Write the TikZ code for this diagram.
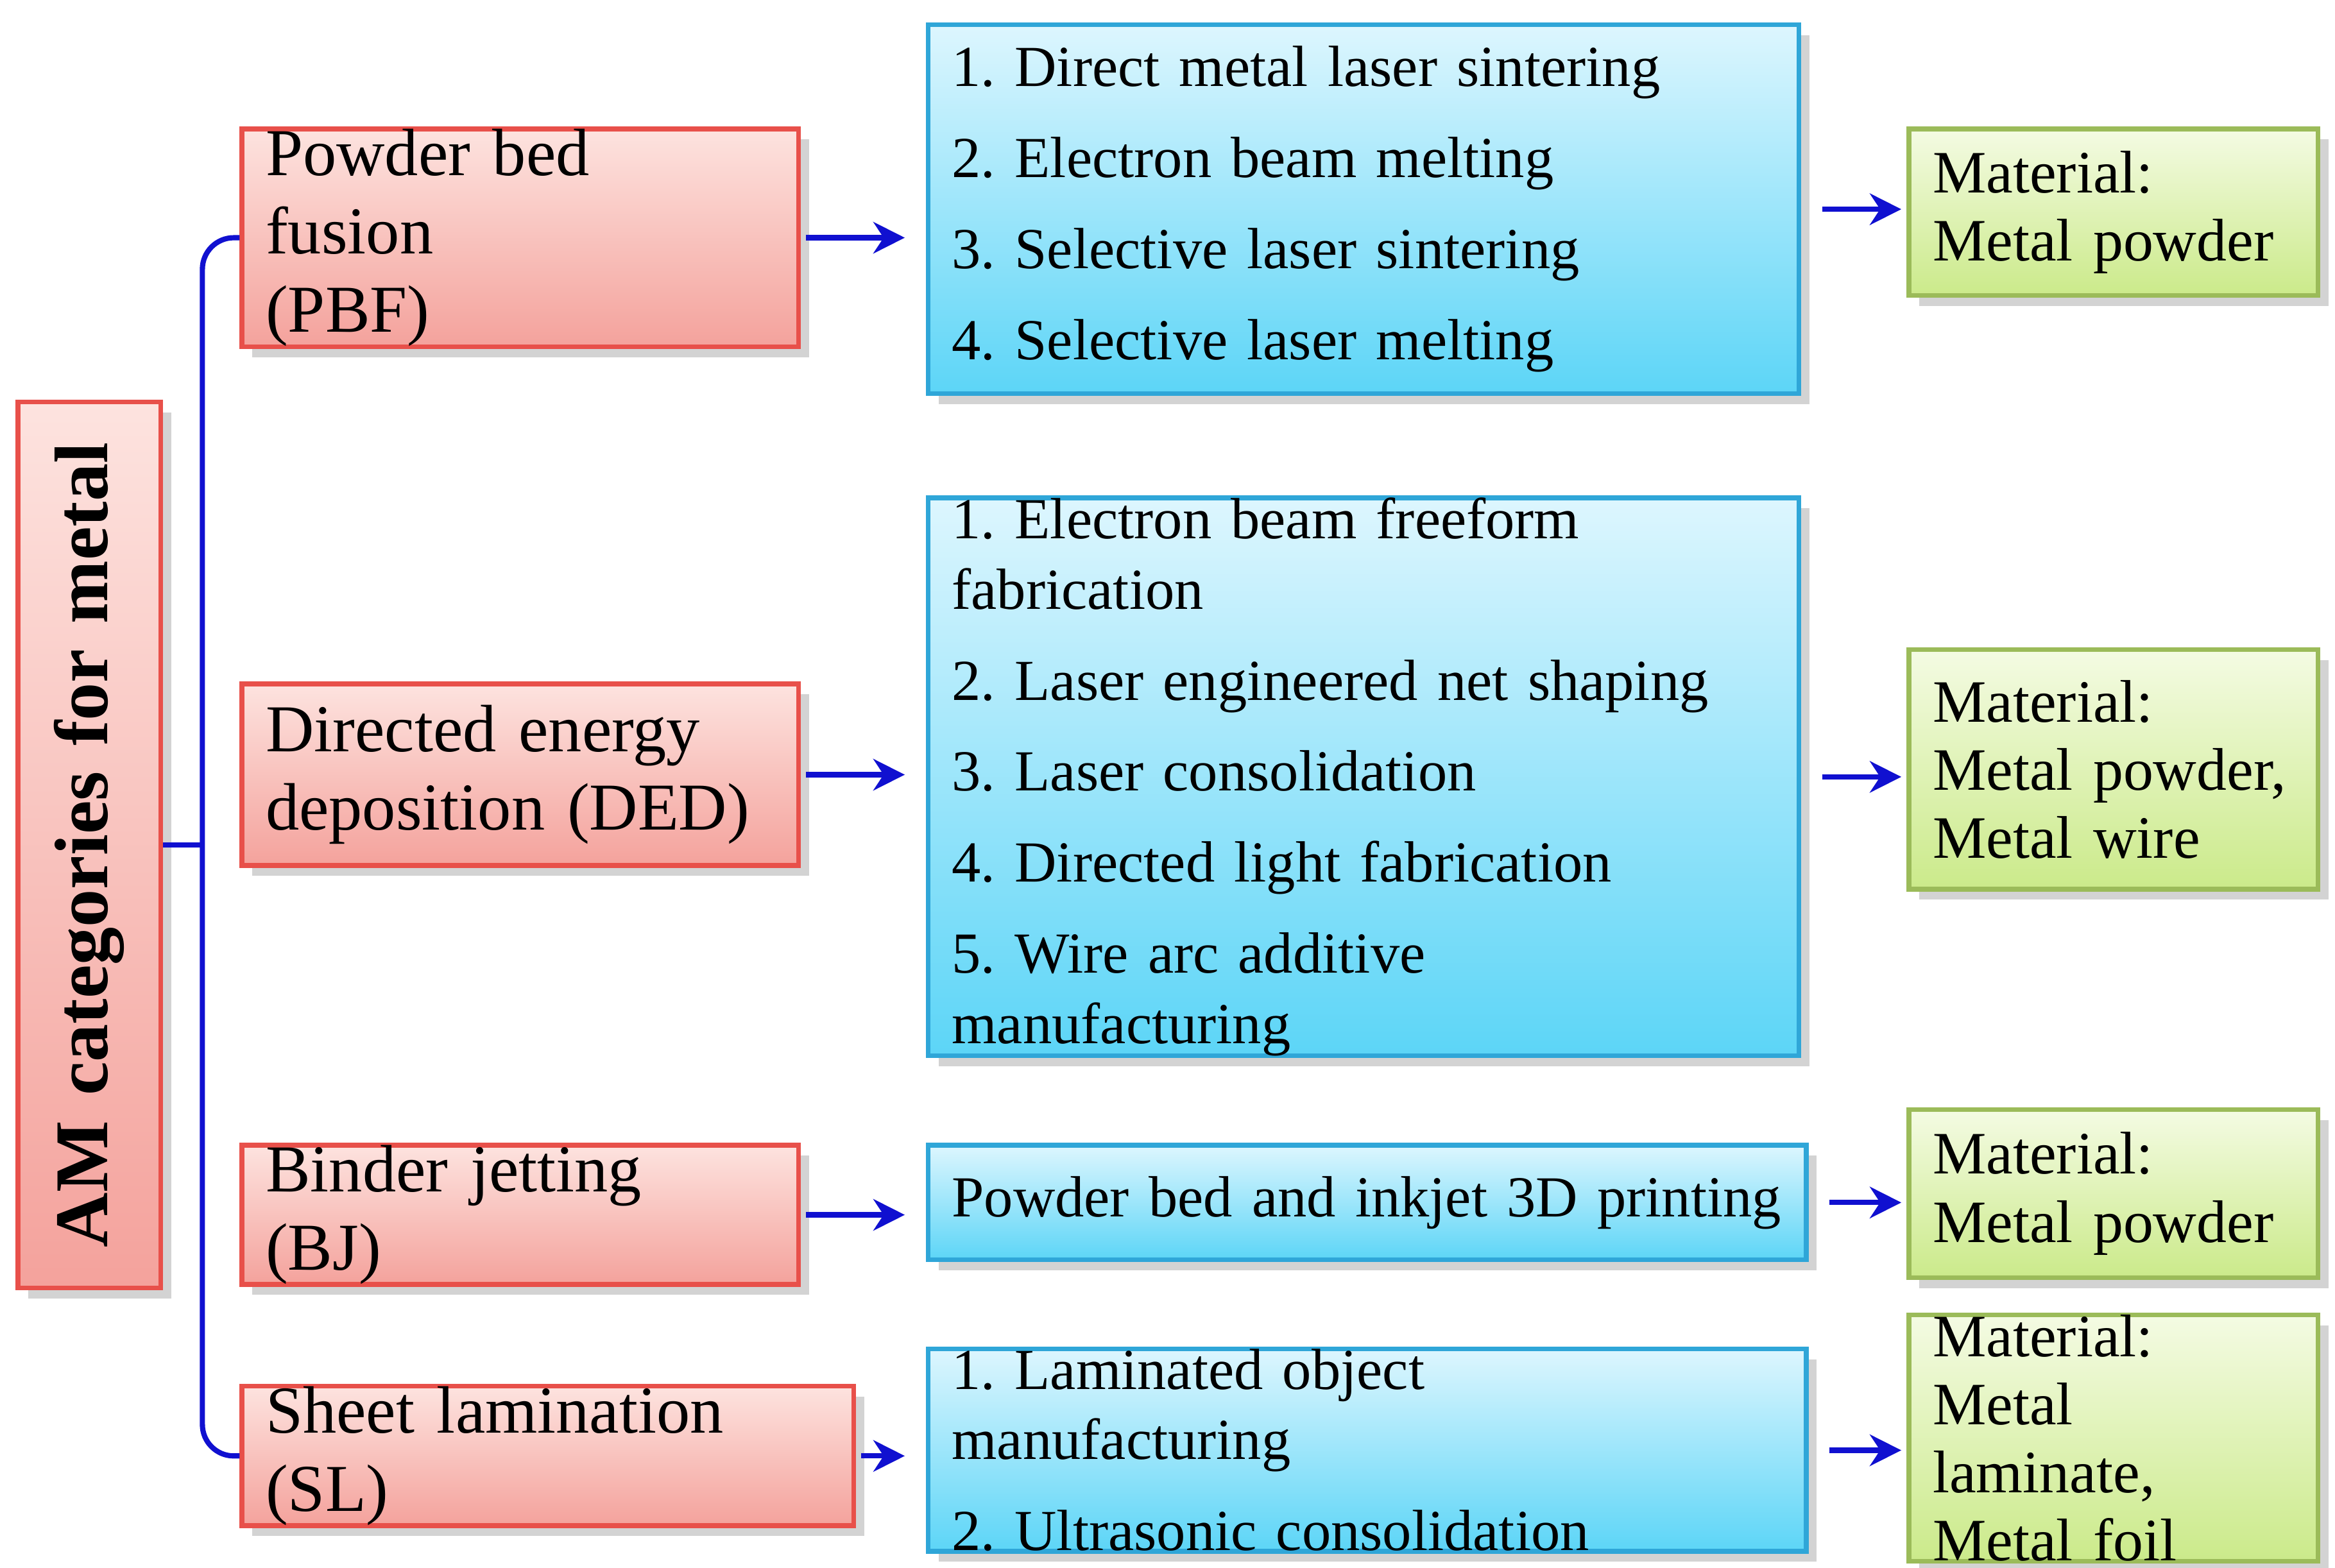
\documentclass[tikz,border=0pt]{standalone}
\usepackage{fontspec}
\setmainfont{Liberation Serif}
\usetikzlibrary{shadows,arrows.meta}
\definecolor{redb}{HTML}{E8504A}
\definecolor{redt}{HTML}{FDE3DF}
\definecolor{redm}{HTML}{F4A29C}
\definecolor{blub}{HTML}{2FA6D8}
\definecolor{blut}{HTML}{DDF6FE}
\definecolor{blum}{HTML}{5CD5F7}
\definecolor{grnb}{HTML}{9BBB59}
\definecolor{grnt}{HTML}{F4FBE3}
\definecolor{grnm}{HTML}{CBEA8A}
\definecolor{arrc}{HTML}{1010D0}
\tikzset{
 base/.style={draw,line width=0.9pt,anchor=north west,inner sep=0pt,align=left,
   drop shadow={shadow xshift=2pt,shadow yshift=-2pt,opacity=0.35,fill=gray}},
 redbox/.style={base,draw=redb,top color=redt,bottom color=redm,
   font=\fontsize{12.8}{15}\selectfont},
 blubox/.style={base,draw=blub,top color=blut,bottom color=blum,
   font=\fontsize{11.1}{13.4}\selectfont},
 grnbox/.style={base,draw=grnb,top color=grnt,bottom color=grnm,
   font=\fontsize{11.5}{13}\selectfont},
 arr/.style={-{Stealth[length=6pt,width=6pt]},draw=arrc,line width=1pt},
}
\newcommand{\bx}[7]{% style name x1 y1 x2 y2 text
 \pgfmathsetmacro\bxw{(#5-#3)*0.01}%
 \pgfmathsetmacro\bxh{(#6-#4)*0.01}%
 \pgfmathsetmacro\bxt{(#5-#3-32)*0.01}%
 \node[#1,minimum width=\bxw cm,minimum height=\bxh cm,
   text width=\bxt cm] (#2) at (#3*0.01cm,-#4*0.01cm) {#7};}
\begin{document}
\frenchspacing\hyphenpenalty=10000
\begin{tikzpicture}
\useasboundingbox (0,0) rectangle (15.68,-10.53);
\node[redbox,anchor=center,minimum width=5.95cm,minimum height=0.96cm,
  font=\fontsize{14.5}{16}\selectfont\bfseries,rotate=90,text width=5.7cm,align=center]
  (am) at (0.60,-5.675) {AM categories for metal};
\bx{redbox}{pbf}{161}{85}{535}{207}{Powder bed fusion\\(PBF)}
\bx{redbox}{ded}{161}{458}{535}{580}{Directed energy\\deposition (DED)}
\bx{redbox}{bj}{161}{768}{535}{838}{Binder jetting (BJ)}
\bx{redbox}{sl}{161}{930}{572}{1002}{Sheet lamination (SL)}
\bx{blubox}{b1}{622}{15}{1207}{263}{1. Direct metal laser sintering\\[4pt]2. Electron beam melting\\[4pt]3. Selective laser sintering\\[4pt]4. Selective laser melting}
\bx{blubox}{b2}{622}{333}{1207}{690}{1. Electron beam freeform\\fabrication\\[4pt]2. Laser engineered net shaping\\[4pt]3. Laser consolidation\\[4pt]4. Directed light fabrication\\[4pt]5. Wire arc additive manufacturing}
\bx{blubox}{b3}{622}{768}{1212}{845}{Powder bed and inkjet 3D printing}
\bx{blubox}{b4}{622}{905}{1212}{1032}{1. Laminated object manufacturing\\[4pt]2. Ultrasonic consolidation}
\bx{grnbox}{g1}{1281}{85}{1556}{197}{Material:\\Metal powder}
\bx{grnbox}{g2}{1281}{435}{1556}{596}{Material:\\Metal powder,\\Metal wire}
\bx{grnbox}{g3}{1281}{744}{1556}{857}{Material:\\Metal powder}
\bx{grnbox}{g4}{1281}{882}{1556}{1045}{Material:\\Metal laminate,\\Metal foil}
% bracket
\draw[arrc,line width=1pt,rounded corners=6pt]
  (pbf.west) -- ++(-0.25,0) |- (sl.west);
\draw[arrc,line width=1pt] (am.south) -- ++(0.28,0);
% arrows
\foreach \a/\b in {pbf/b1,ded/b2,bj/b3,sl/b4}
  \draw[arr,shorten <=1pt,shorten >=4pt] (\a.east) -- (\a.east -| \b.west);
\foreach \a/\b in {b1/g1,b2/g2,b3/g3,b4/g4}
  \draw[arr,shorten <=4pt,shorten >=1pt] (\a.east) -- (\a.east -| \b.west);
\end{tikzpicture}
\end{document}
